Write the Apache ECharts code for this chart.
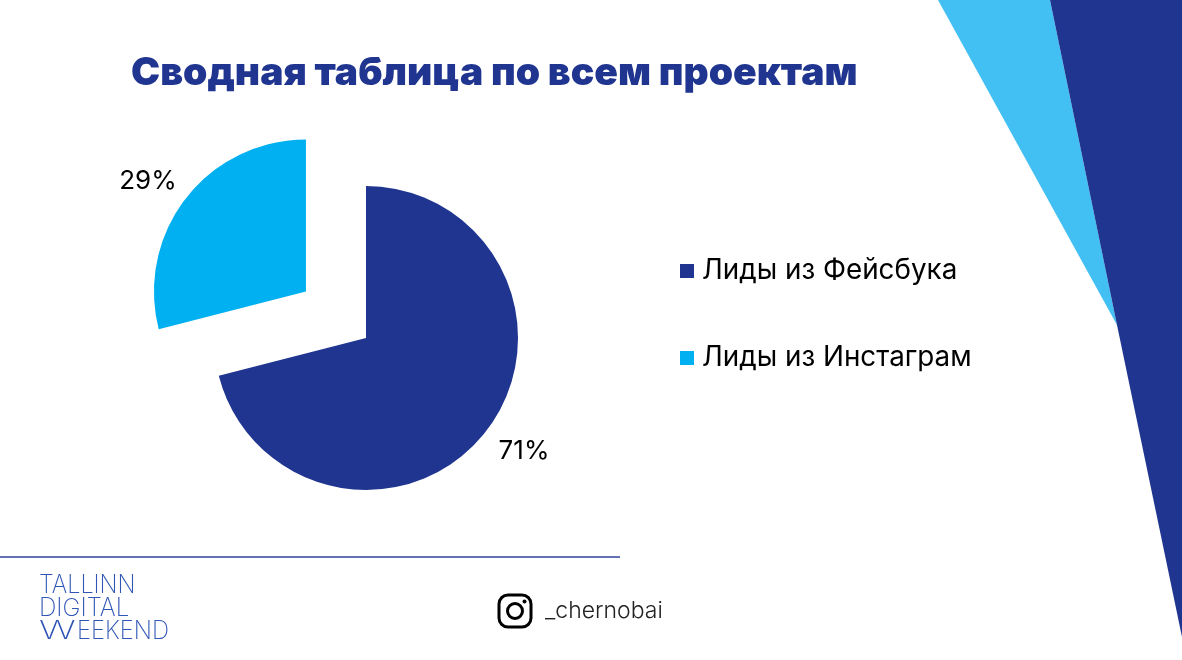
<!DOCTYPE html>
<html>
<head>
<meta charset="utf-8">
<style>
  html, body { margin: 0; padding: 0; background: #fff; }
  #chart { width: 1182px; height: 660px; }
</style>
<script src="https://cdn.jsdelivr.net/npm/echarts@6/dist/echarts.min.js"></script>
</head>
<body>
<div id="chart"></div>
<script>
const titleText = 'Сводная таблица по всем проектам'
const categories = ['Лиды из Фейсбука', 'Лиды из Инстаграм']
const shares = [71, 29]
const sliceColors = ['#1F3590', '#00B0F0']
const handle = '_chernobai'

const chart = echarts.init(document.getElementById('chart'))
const font = 'Inter, Roboto, sans-serif'

const logoText = (text, x, y, scaleX) => ({
  type: 'text', x, y, scaleX,
  style: { text, font: '200 25px ' + font, fill: '#2F55B5', verticalAlign: 'middle' }
})

// фоновые фигуры и подвал слайда
const decor = [
  { type: 'polygon', shape: { points: [[938, 0], [1050, 0], [1117, 325]] }, style: { fill: '#43C0F3' } },
  { type: 'polygon', shape: { points: [[1050, 0], [1182, 0], [1182, 637], [1117, 325]] }, style: { fill: '#1F3590' } },
  { type: 'line', shape: { x1: 0, y1: 557, x2: 620, y2: 557 }, style: { stroke: '#2F4598', lineWidth: 1.5 } },
  { type: 'rect', shape: { x: 499, y: 595, width: 32, height: 32, r: 9 }, style: { fill: 'none', stroke: '#000', lineWidth: 3 } },
  { type: 'circle', shape: { cx: 515, cy: 611, r: 7.5 }, style: { fill: 'none', stroke: '#000', lineWidth: 3 } },
  { type: 'circle', shape: { cx: 524.5, cy: 601.5, r: 2 }, style: { fill: '#000' } },
  { type: 'text', x: 545, y: 611, style: { text: handle, font: '300 23px ' + font, fill: '#222', verticalAlign: 'middle' } },
  logoText('TALLINN', 39, 585, 0.94),
  logoText('DIGITAL', 39, 608, 0.97),
  logoText('W', 39, 631, 1.55),
  logoText('EEKEND', 77, 631, 0.95)
]

chart.setOption({
  animation: false,
  backgroundColor: '#fff',
  title: {
    text: titleText,
    left: 126,
    top: 49,
    textStyle: { fontFamily: font, fontWeight: 900, fontSize: 39, color: '#1F3590' }
  },
  legend: {
    orient: 'vertical',
    left: 675,
    top: 252,
    icon: 'rect',
    itemWidth: 14,
    itemHeight: 14,
    itemGap: 59,
    selectedMode: false,
    data: categories,
    textStyle: { fontFamily: font, fontSize: 27.8, color: '#000', padding: [0, 0, 0, 3] }
  },
  graphic: decor,
  series: [
    {
      type: 'pie',
      center: [366, 338],
      radius: 152,
      startAngle: 90,
      clockwise: true,
      selectedMode: 'multiple',
      selectedOffset: 76,
      data: categories.map((name, i) => ({
        name,
        value: shares[i],
        selected: i === 1,
        itemStyle: { color: sliceColors[i] }
      })),
      label: {
        show: true,
        position: 'outside',
        formatter: '{c}%',
        fontFamily: font,
        fontSize: 26,
        color: '#000'
      },
      // у выдвинутого сектора подпись ставится по length/length2, а не по labelLayout
      labelLine: { show: false, length: 28, length2: -18 },
      labelLayout: (params) => params.dataIndex === 0
        ? { x: 524, y: 451, align: 'center', verticalAlign: 'middle' }
        : {}
    }
  ]
})
</script>
</body>
</html>
